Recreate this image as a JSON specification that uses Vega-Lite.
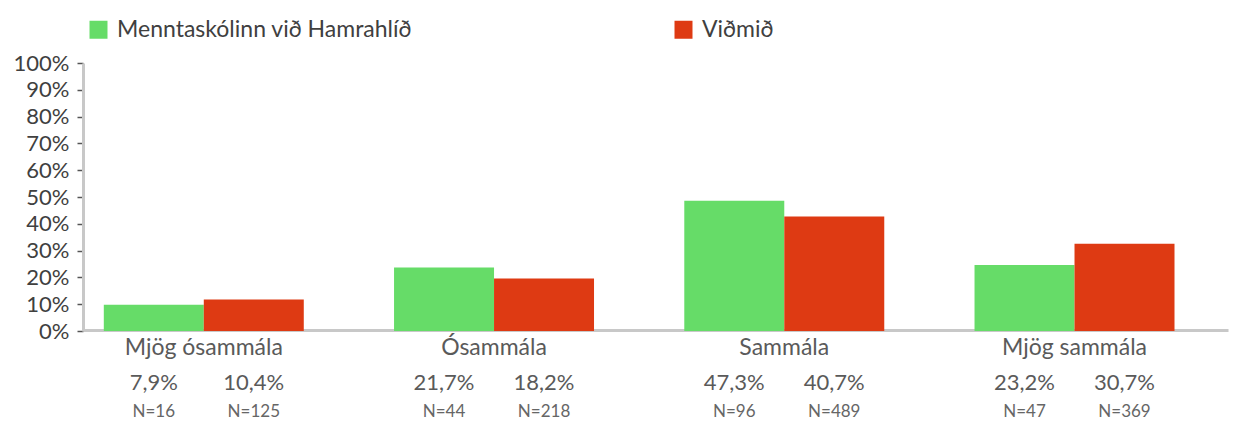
{
  "$schema": "https://vega.github.io/schema/vega-lite/v6.json",
  "width": 1145,
  "height": 268,
  "autosize": {"type": "none"},
  "padding": {"left": 83, "top": 63, "right": 5, "bottom": 90},
  "config": {"view": {"stroke": null}, "font": "Lato"},
  "data": {"values": [
    {"cat": "Mjög ósammála", "grp": "Menntaskólinn við Hamrahlíð", "value": 9.8, "pct": "7,9%", "n": "N=16"},
    {"cat": "Mjög ósammála", "grp": "Viðmið", "value": 11.8, "pct": "10,4%", "n": "N=125"},
    {"cat": "Ósammála", "grp": "Menntaskólinn við Hamrahlíð", "value": 23.7, "pct": "21,7%", "n": "N=44"},
    {"cat": "Ósammála", "grp": "Viðmið", "value": 19.6, "pct": "18,2%", "n": "N=218"},
    {"cat": "Sammála", "grp": "Menntaskólinn við Hamrahlíð", "value": 48.6, "pct": "47,3%", "n": "N=96"},
    {"cat": "Sammála", "grp": "Viðmið", "value": 42.7, "pct": "40,7%", "n": "N=489"},
    {"cat": "Mjög sammála", "grp": "Menntaskólinn við Hamrahlíð", "value": 24.6, "pct": "23,2%", "n": "N=47"},
    {"cat": "Mjög sammála", "grp": "Viðmið", "value": 32.6, "pct": "30,7%", "n": "N=369"}
  ]},
  "resolve": {"scale": {"y": "independent"}, "axis": {"y": "independent"}},
  "encoding": {
    "x": {
      "field": "cat", "type": "nominal",
      "sort": ["Mjög ósammála", "Ósammála", "Sammála", "Mjög sammála"],
      "scale": {"paddingInner": 0.311, "paddingOuter": 0.128, "align": 0.28},
      "axis": {
        "title": null, "labelAngle": 0, "ticks": false, "tickSize": 0,
        "domainColor": "#c8c8c8", "domainWidth": 3, "offset": -1,
        "labelFontSize": 23, "labelColor": "#5a5a5a", "labelBaseline": "alphabetic",
        "labelPadding": 24, "labelFont": "Lato"
      }
    },
    "xOffset": {
      "field": "grp", "type": "nominal",
      "sort": ["Menntaskólinn við Hamrahlíð", "Viðmið"],
      "scale": {"paddingInner": 0, "paddingOuter": 0}
    }
  },
  "layer": [
    {
      "mark": {"type": "bar"},
      "encoding": {
        "y": {
          "field": "value", "type": "quantitative",
          "scale": {"domain": [0, 100], "nice": false},
          "axis": {
            "title": null, "values": [0, 10, 20, 30, 40, 50, 60, 70, 80, 90, 100],
            "labelExpr": "datum.value + '%'", "grid": false, "labelOverlap": false,
            "domainColor": "#c8c8c8", "domainWidth": 3,
            "tickColor": "#555555", "tickWidth": 1.5, "tickSize": 6,
            "labelPadding": 8, "labelFontSize": 22, "labelColor": "#404040",
            "labelFont": "Lato"
          }
        },
        "color": {
          "field": "grp", "type": "nominal",
          "sort": ["Menntaskólinn við Hamrahlíð", "Viðmið"],
          "scale": {"domain": ["Menntaskólinn við Hamrahlíð", "Viðmið"], "range": ["#66dc68", "#de3a13"]},
          "legend": {
            "title": null, "orient": "none", "direction": "horizontal", "columns": 2,
            "legendX": 4, "legendY": -45, "padding": 0,
            "symbolType": "square", "symbolSize": 324, "symbolStrokeWidth": 0,
            "labelFontSize": 23, "labelColor": "#404040", "labelFont": "Lato",
            "labelOffset": 7, "columnPadding": 259, "labelLimit": 500
          }
        }
      }
    },
    {
      "layer": [
        {
          "mark": {"type": "text", "fontSize": 22, "color": "#5a5a5a", "baseline": "alphabetic", "dy": 59, "font": "Lato"},
          "encoding": {"text": {"field": "pct"}}
        },
        {
          "mark": {"type": "text", "fontSize": 17, "color": "#666666", "baseline": "alphabetic", "dy": 86, "font": "Lato"},
          "encoding": {"text": {"field": "n"}}
        }
      ],
      "encoding": {
        "y": {"datum": 0, "type": "quantitative", "scale": {"domain": [0, 100], "nice": false}, "axis": null}
      }
    }
  ]
}
